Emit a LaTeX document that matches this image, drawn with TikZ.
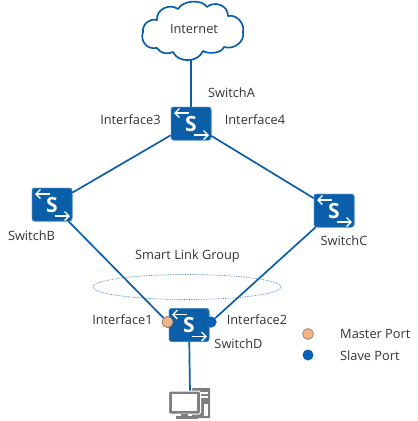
\documentclass[tikz,border=0pt]{standalone}
\usepackage{fontspec}
\setmainfont{Open Sans}
\usetikzlibrary{arrows.meta}
\definecolor{hwblue}{HTML}{0B5FA8}
\definecolor{portblue}{HTML}{0A62B4}
\definecolor{portorange}{HTML}{F4B183}
\definecolor{txt}{HTML}{333333}
\definecolor{pcgray}{HTML}{7F7F7F}
\tikzset{
 swbox/.style={draw=hwblue!70!white,line width=.5pt,fill=hwblue,rounded corners=2.5pt,minimum width=40pt,minimum height=33pt,inner sep=0pt,font=\fontsize{21}{21}\selectfont\bfseries,text=white},
 link/.style={draw=hwblue,line width=1.7pt},
 lbl/.style={font=\fontsize{12.8}{14}\selectfont,text=txt,inner sep=0pt},
 swarrow/.style={draw=white,line width=1.3pt,-{Straight Barb[length=4.5pt,width=9pt]}},
 mport/.style={circle,draw=pcgray,line width=.6pt,fill=portorange,minimum size=11pt,inner sep=0pt},
 sport/.style={circle,fill=portblue,minimum size=11pt,inner sep=0pt},
}
\newcommand{\swmarks}[1]{%
 \draw[swarrow] ([shift={(-2.5pt,10.5pt)}]#1.center) -- ([shift={(-17pt,10.5pt)}]#1.center);
 \draw[swarrow] ([shift={(2.5pt,-11.5pt)}]#1.center) -- ([shift={(18pt,-11.5pt)}]#1.center);
}
\begin{document}
\begin{tikzpicture}[x=1pt,y=-1pt]
\useasboundingbox (0,0) rectangle (418,421);
% links
\coordinate (cloudb) at (191,58);
\coordinate (pcpt) at (190,392);
\node[swbox] (A) at (191,123.5) {};
\node[swbox] (B) at (52,204.5) {};
\node[swbox] (C) at (334,210.5) {};
\node[swbox] (D) at (189,325) {};
\node[mport] (P1) at (167.5,322) {};
\node[sport] (P2) at (211,322) {};
\draw[link] (cloudb) -- (A);
\draw[link] (A) -- (B);
\draw[link] (A) -- (C);
\draw[link] (B) -- (P1);
\draw[link] (C) -- (P2);
\draw[link] (D) -- (pcpt);
% redraw nodes over links
\node[swbox] at (A) {S};
\node[swbox] at (B) {S};
\node[swbox] at (C) {S};
\node[swbox] at (D) {S};
\swmarks{A}\swmarks{B}\swmarks{C}\swmarks{D}
\node[mport] at (P1) {};
\node[sport] at (P2) {};
% cloud
\draw[hwblue,line width=1.7pt,fill=white,line join=round]
 (157,48) .. controls (146,50) and (140,40) .. (143,32)
 .. controls (142,24) and (150,18) .. (157,20)
 .. controls (156,9) and (170,3) .. (178,9)
 .. controls (183,0) and (202,-1) .. (207,7)
 .. controls (213,1) and (228,4) .. (228,16)
 .. controls (237,14) and (245,24) .. (243,32)
 .. controls (245,42) and (234,50) .. (224,47)
 .. controls (221,54) and (208,54) .. (203,51)
 .. controls (198,63) and (178,63) .. (173,52)
 .. controls (167,55) and (160,53) .. (157,48) -- cycle;
\node[lbl] (tI) at (194,29) {Internet};
% smart link ellipse
\draw[hwblue!80!white,line width=.7pt,densely dotted] (187,287) ellipse [x radius=94,y radius=12.5];
% labels
\node[lbl] (tA) at (231.5,93) {SwitchA};
\node[lbl] (t3) at (130.5,120) {Interface3};
\node[lbl] (t4) at (255,120) {Interface4};
\node[lbl] (tB) at (31.5,236) {SwitchB};
\node[lbl] (tC) at (344,240.5) {SwitchC};
\node[lbl] (tG) at (187.5,256) {Smart Link Group};
\node[lbl] (t1) at (122.5,319.5) {Interface1};
\node[lbl] (t2) at (257,319.5) {Interface2};
\node[lbl] (tD) at (238.5,343.5) {SwitchD};
\node[mport] (L1) at (308,334) {};
\node[sport] (L2) at (308,355) {};
\node[lbl,anchor=west] (tM) at (340,334) {Master Port};
\node[lbl,anchor=west] (tS) at (340,355.5) {Slave Port};
% computer
\fill[pcgray,rounded corners=.5pt] (192,388) rectangle (210,418);
\fill[white] (201,392) rectangle (208,394);
\fill[white] (201,396) rectangle (208,398);
\fill[white] (204,404) rectangle (208,416);
\draw[white,line width=1pt,fill=pcgray,rounded corners=1.5pt] (168.5,391) rectangle (200.5,414);
\fill[white] (172,394) rectangle (197,410.5);
\fill[pcgray] (181,414) rectangle (188,416);
\fill[pcgray] (176,416) rectangle (198,418.5);
\end{tikzpicture}
\end{document}
